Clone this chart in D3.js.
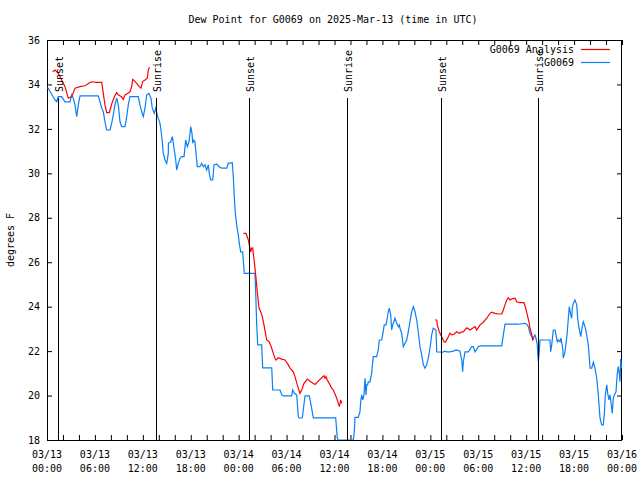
<!DOCTYPE html>
<html>
<head>
<meta charset="utf-8">
<script src="https://cdn.jsdelivr.net/npm/d3@7"></script>
<style>
  html, body { margin: 0; padding: 0; background: #fff; }
  svg { display: block; }
  text { font-family: "DejaVu Sans Mono", "Liberation Mono", monospace; font-size: 10px; fill: #000; }
</style>
</head>
<body>
<svg id="chart" width="640" height="480"></svg>
<script>
// ---- Data (hours since 2025-03-13 00:00 UTC) ----
const titleText = "Dew Point for G0069 on 2025-Mar-13 (time in UTC)";
const yLabel = "degrees F";
const seriesNames = ["G0069 Analysis", "G0069"];
const yTicks = [18, 20, 22, 24, 26, 28, 30, 32, 34, 36];

const blueHours = [
  0,0.16,0.59,1.0,1.21,1.41,1.84,2.25,2.88,3.09,
  3.29,3.51,3.72,3.92,4.13,6.42,6.64,6.85,7.05,7.26,
  7.47,7.89,8.1,8.3,8.51,8.73,8.93,9.14,9.35,9.77,
  9.98,10.18,10.39,11.43,11.64,11.86,12.06,12.27,12.48,12.77,
  13.02,13.18,13.43,13.61,13.86,14.15,14.27,14.44,14.56,14.78,
  14.99,15.19,15.2,15.49,15.69,15.82,15.94,16.12,16.24,16.44,
  16.65,16.87,17.16,17.28,17.37,17.57,17.78,17.91,18.0,18.16,
  18.24,18.37,18.53,18.66,18.82,19.16,19.37,19.57,19.78,19.99,
  20.2,20.32,20.5,20.75,20.91,21.25,21.54,21.88,22.5,22.7,
  23.2,23.33,23.45,23.58,23.75,23.95,24.08,24.25,24.5,24.7,
  26.04,26.13,26.26,26.38,26.88,27.01,28.14,28.26,29.18,29.39,
  29.59,30.64,30.77,30.97,31.27,31.47,31.59,31.97,32.31,32.85,
  33.06,33.35,36.15,36.35,36.48,38.35,38.48,38.57,38.98,39.19,
  39.28,39.41,39.53,39.69,39.82,39.94,40.03,40.15,40.23,40.44,
  40.65,40.85,41.28,41.48,41.61,41.91,42.03,42.23,42.45,42.61,
  42.73,42.86,43.04,43.16,43.29,43.58,43.79,43.99,44.11,44.2,
  44.41,44.54,44.62,44.83,45.04,45.24,45.45,45.66,45.86,46.08,
  46.29,46.49,46.7,46.92,47.12,47.33,47.54,47.74,47.96,48.17,
  48.37,48.71,48.8,49.0,49.21,49.42,49.84,50.05,50.46,50.87,
  51.3,51.71,51.93,52.05,52.13,52.34,52.76,53.18,53.38,53.6,
  54.01,54.22,56.94,57.14,57.35,59.02,59.85,60.07,60.27,60.48,
  60.69,60.89,61.1,61.23,61.39,61.52,61.64,61.73,62.98,63.07,
  63.2,63.4,63.61,63.82,63.9,64.02,64.24,64.36,64.57,64.65,
  64.86,64.99,65.15,65.28,65.4,65.58,65.7,65.78,65.9,66.11,
  66.33,66.45,66.62,66.83,66.99,67.16,67.37,67.58,67.78,67.91,
  68.0,68.21,68.41,68.62,68.83,68.96,69.03,69.25,69.46,69.66,
  69.79,69.91,70.09,70.21,70.37,70.5,70.71,70.78,70.91,71.04,
  71.25,71.41,71.54,71.66,71.75,71.84,71.96
];
const blueValues = [
  33.84,33.83,33.56,33.3,33.22,33.45,33.45,33.22,33.22,33.53,
  33.38,33.08,32.55,33.08,33.49,33.49,33.22,32.93,32.77,32.32,
  31.95,31.95,32.25,32.63,33.08,33.38,33.08,32.32,32.1,32.1,
  32.55,33.08,33.45,33.45,33.08,32.77,32.55,32.93,33.53,33.6,
  33.38,32.93,32.7,32.93,32.55,32.25,31.95,31.42,30.9,30.6,
  30.45,30.9,31.35,31.42,31.65,31.35,31.05,30.6,30.15,30.45,
  30.68,30.75,30.75,31.2,31.5,31.2,31.42,31.8,32.1,31.8,
  31.35,31.5,31.42,30.9,30.3,30.3,30.45,30.3,30.38,30.15,
  30.38,30.0,29.7,29.7,30.38,30.42,30.3,30.23,30.23,30.45,
  30.48,29.85,28.95,28.2,27.68,27.23,26.85,26.47,26.47,25.5,
  25.5,24.67,23.18,22.28,22.28,21.25,21.25,20.25,20.25,20.03,
  19.99,19.99,20.25,20.1,20.03,19.05,18.98,19.0,19.99,19.99,
  19.58,19.0,19.0,18.07,18.0,18.0,18.37,19.02,19.02,19.27,
  19.72,20.03,19.8,20.03,20.78,20.03,20.48,20.48,20.62,20.62,
  21.0,21.75,21.75,22.05,22.5,22.5,22.73,23.18,23.18,23.48,
  23.77,23.93,23.63,22.95,23.18,23.48,23.25,23.1,23.18,23.03,
  22.8,22.42,22.2,22.35,22.5,22.87,23.32,23.77,24.0,23.77,
  23.4,22.87,22.2,21.83,21.38,21.23,21.38,21.68,22.13,22.73,
  23.03,22.95,21.97,21.95,21.97,21.93,22.0,21.97,21.97,22.0,
  22.05,22.0,21.6,21.07,21.52,21.97,21.97,22.2,22.2,21.97,
  22.2,22.24,22.24,22.73,23.21,23.21,23.25,23.21,23.1,22.8,
  22.65,22.6,22.73,22.58,22.28,21.52,21.97,22.5,22.5,21.97,
  22.28,22.95,22.95,22.58,22.42,22.5,22.42,22.58,22.13,21.68,
  21.97,22.35,22.87,23.48,24.0,23.63,23.48,23.93,24.15,24.3,
  24.08,23.48,23.03,22.65,23.03,23.32,23.1,22.73,22.28,21.68,
  21.23,21.23,21.5,21.23,20.78,20.33,20.03,18.98,18.68,18.68,
  19.2,20.03,20.48,20.1,19.8,20.03,19.43,19.2,19.88,20.03,
  20.17,21.0,21.3,21.0,20.62,21.64,21.23
];

const redHours1 = [0.71,1.0,1.41,1.84,2.25,2.67,3.09,3.51,4.13,4.76,5.38,5.6,6.22,6.85,7.05,7.26,7.48,7.8,8.1,8.51,8.73,8.93,9.35,9.55,9.77,10.18,10.39,10.61,10.73,10.9,11.23,11.56,11.77,11.98,12.27,12.56,12.69,12.84];
const redValues1 = [34.57,34.65,34.5,34.2,33.9,33.38,33.45,33.83,33.9,33.94,34.09,34.12,34.09,34.09,33.6,33.08,32.73,32.73,33.12,33.5,33.63,33.53,33.44,33.33,33.53,33.62,33.67,33.9,34.23,34.18,34.05,33.9,33.83,34.13,34.2,34.28,34.65,34.77];
const redHours2 = [24.58,24.92,25.21,25.33,25.51,25.63,25.76,25.83,25.96,26.13,26.33,26.55,26.76,26.96,27.17,27.51,27.84,28.14,28.34,28.55,28.68,28.96,29.39,29.8,30.22,30.43,30.84,31.05,31.34,31.68,31.89,32.18,32.59,33.02,33.56,33.97,34.4,34.69,34.81,34.94,35.1,35.44,35.65,35.85,36.28,36.48,36.61,36.78,36.9];
const redValues2 = [27.3,27.3,27.0,26.78,26.47,26.63,26.65,26.4,26.02,25.43,24.67,23.93,23.77,23.55,23.18,22.5,22.42,22.13,21.9,21.68,21.6,21.7,21.64,21.6,21.38,21.23,21.07,20.85,20.48,20.1,20.25,20.55,20.74,20.62,20.5,20.65,20.8,20.89,20.78,20.85,20.7,20.48,20.33,20.25,19.88,19.65,19.5,19.8,19.65];
const redHours3 = [48.59,48.8,48.87,49.12,49.42,49.71,49.87,50.12,50.46,50.67,50.96,51.3,51.63,51.93,52.13,52.56,52.97,53.38,53.6,53.81,54.22,54.63,55.06,55.47,55.69,56.1,56.51,56.94,57.14,57.35,57.56,57.76,57.98,58.19,58.6,58.81,59.23,59.73,59.94,60.14,60.35,60.48,60.69,60.82,60.98];
const redValues3 = [23.4,23.4,23.18,22.87,22.65,22.42,22.4,22.55,22.8,22.73,22.76,22.87,22.8,22.87,22.87,23.05,22.95,23.05,23.1,22.95,23.18,23.3,23.48,23.7,23.75,23.7,23.67,23.67,23.85,24.08,24.3,24.4,24.3,24.35,24.38,24.22,24.18,24.18,23.93,23.63,23.32,23.03,22.76,22.5,22.58];

const sunsetHours = [1.42, 25.35, 49.38];
const sunriseHours = [13.66, 37.61, 61.55];

// ---- Layout ----
const W = 640, H = 480;
const m = { left: 47, right: 622, top: 40, bottom: 440 };
const base = Date.UTC(2025, 2, 13, 0, 0);
const toDate = h => new Date(base + h * 3600000);

const svg = d3.select("#chart");
const x = d3.scaleUtc().domain([toDate(0), toDate(72)]).range([m.left, m.right]);
const y = d3.scaleLinear().domain([18, 36]).range([m.bottom, m.top]);

svg.append("defs").append("clipPath").attr("id", "clip")
  .append("rect").attr("x", m.left).attr("y", m.top)
  .attr("width", m.right - m.left).attr("height", m.bottom - m.top);

// Axes (ticks inward, mirrored)
const tick2h = d3.utcHour.every(2);
const gB = svg.append("g").attr("transform", `translate(0,${m.bottom})`)
  .call(d3.axisBottom(x).ticks(tick2h).tickSizeInner(-5).tickSizeOuter(0).tickFormat(() => ""));
const gT = svg.append("g").attr("transform", `translate(0,${m.top})`)
  .call(d3.axisTop(x).ticks(tick2h).tickSizeInner(-5).tickSizeOuter(0).tickFormat(() => ""));
const gL = svg.append("g").attr("transform", `translate(${m.left},0)`)
  .call(d3.axisLeft(y).tickValues(yTicks).tickSizeInner(-5).tickSizeOuter(0).tickPadding(7).tickFormat(d3.format("d")));
const gR = svg.append("g").attr("transform", `translate(${m.right},0)`)
  .call(d3.axisRight(y).tickValues(yTicks).tickSizeInner(-5).tickSizeOuter(0).tickFormat(() => ""));
[gB, gT, gL, gR].forEach(g => {
  g.select(".domain").remove();
  g.selectAll("line").attr("stroke", "#000").attr("stroke-width", 1);
  g.selectAll("text").attr("font-family", null).attr("font-size", null).attr("fill", "#000");
});

// Bottom labels every 6 hours (two lines)
const fmtD = d3.utcFormat("%m/%d"), fmtT = d3.utcFormat("%H:%M");
const lab = svg.append("g");
x.ticks(d3.utcHour.every(6)).forEach(d => {
  const t = lab.append("text").attr("text-anchor", "middle").attr("x", x(d));
  t.append("tspan").attr("x", x(d)).attr("y", 458).text(fmtD(d));
  t.append("tspan").attr("x", x(d)).attr("y", 472).text(fmtT(d));
});

// Border
svg.append("rect").attr("x", m.left + 0.5).attr("y", m.top + 0.5)
  .attr("width", m.right - m.left - 1).attr("height", m.bottom - m.top)
  .attr("fill", "none").attr("stroke", "#000").attr("stroke-width", 1);

// Series
const line = d3.line().x(d => x(toDate(d[0]))).y(d => y(d[1]));
const plot = svg.append("g").attr("clip-path", "url(#clip)");
plot.append("path").datum(d3.zip(blueHours, blueValues))
  .attr("d", line).attr("fill", "none").attr("stroke", "#0a7ff5").attr("stroke-width", 1.2);
[[redHours1, redValues1], [redHours2, redValues2], [redHours3, redValues3]].forEach(([hh, vv]) => {
  plot.append("path").datum(d3.zip(hh, vv))
    .attr("d", line).attr("fill", "none").attr("stroke", "#ff0000").attr("stroke-width", 1.2);
});

// Sunrise / sunset markers
const events = sunsetHours.map(h => ({ h, name: "Sunset" }))
  .concat(sunriseHours.map(h => ({ h, name: "Sunrise" })));
events.forEach(e => {
  const xx = Math.floor(x(toDate(e.h))) + 0.5;
  svg.append("line").attr("x1", xx).attr("x2", xx).attr("y1", 98).attr("y2", m.bottom)
    .attr("stroke", "#000").attr("stroke-width", 1);
  svg.append("text").attr("transform", `translate(${xx + 4},92) rotate(-90)`)
    .attr("text-anchor", "start").text(e.name);
});

// Title and y label
svg.append("text").attr("x", 333).attr("y", 23).attr("text-anchor", "middle").text(titleText);
svg.append("text").attr("transform", "translate(14,240) rotate(-90)").attr("text-anchor", "middle").text(yLabel);

// Legend
const legColors = ["#ff0000", "#0a7ff5"];
seriesNames.forEach((n, i) => {
  const yy = 49 + i * 13;
  svg.append("text").attr("x", 574).attr("y", yy + 4).attr("text-anchor", "end").text(n);
  svg.append("line").attr("x1", 581).attr("x2", 610).attr("y1", yy + 0.5).attr("y2", yy + 0.5)
    .attr("stroke", legColors[i]).attr("stroke-width", 1.2);
});
</script>
</body>
</html>
